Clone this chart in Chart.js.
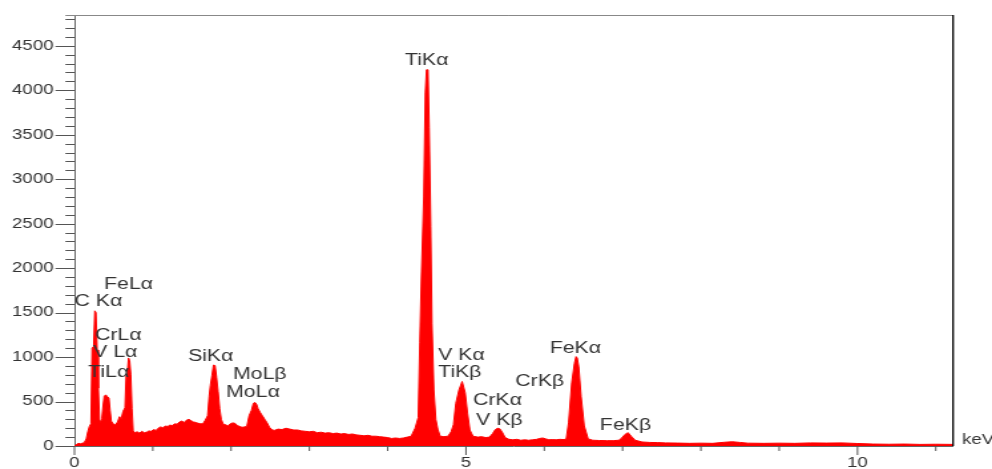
<!DOCTYPE html>
<html>
<head>
  <meta charset="UTF-8">
  <title>EDS spectrum</title>
  <style>
    body {
      margin: 0;
      padding: 0;
      overflow: hidden;
      background: #fff;
    }

    #chart {
      display: block;
    }
  </style>
  <script src="https://cdn.jsdelivr.net/npm/chart.js"></script>
</head>
<body>
  <!-- the original picture is stretched sideways, so the canvas is drawn narrow and widened by css -->
  <canvas id="chart" width="746" height="469" style="width:992px;height:469px"></canvas>

  <script>
    // spectrum: energy (keV) and counts
    var energy = [0, 0.02, 0.05, 0.08, 0.11, 0.13, 0.15, 0.17, 0.19, 0.21, 0.225, 0.245, 0.26, 0.275, 0.29, 0.305, 0.32, 0.335, 0.35, 0.365,
      0.38, 0.40, 0.42, 0.44, 0.455, 0.47, 0.49, 0.52, 0.55, 0.575, 0.595, 0.62, 0.645, 0.66, 0.675, 0.69, 0.705, 0.72, 0.735, 0.75,
      0.77, 0.80, 0.83, 0.86, 0.89, 0.92, 0.95, 0.98, 1.01, 1.04, 1.07, 1.10, 1.13, 1.16, 1.19, 1.22, 1.25, 1.28, 1.31, 1.34,
      1.37, 1.40, 1.43, 1.46, 1.49, 1.52, 1.55, 1.58, 1.61, 1.64, 1.67, 1.70, 1.72, 1.735, 1.755, 1.775, 1.795, 1.815, 1.835, 1.855,
      1.875, 1.90, 1.93, 1.96, 1.99, 2.02, 2.05, 2.08, 2.11, 2.14, 2.17, 2.20, 2.23, 2.26, 2.285, 2.305, 2.325, 2.345, 2.37, 2.40,
      2.43, 2.46, 2.49, 2.52, 2.55, 2.60, 2.65, 2.70, 2.75, 2.80, 2.85, 2.90, 2.95, 3.00, 3.05, 3.10, 3.15, 3.20, 3.25, 3.30,
      3.35, 3.40, 3.45, 3.50, 3.55, 3.60, 3.65, 3.70, 3.75, 3.80, 3.85, 3.90, 3.95, 4.00, 4.05, 4.10, 4.15, 4.20, 4.25, 4.30,
      4.35, 4.39, 4.41, 4.43, 4.46, 4.48, 4.495, 4.515, 4.53, 4.55, 4.565, 4.59, 4.615, 4.64, 4.67, 4.72, 4.77, 4.81, 4.84, 4.87,
      4.91, 4.95, 4.99, 5.02, 5.05, 5.09, 5.15, 5.20, 5.25, 5.30, 5.34, 5.37, 5.40, 5.43, 5.46, 5.50, 5.55, 5.60, 5.65, 5.70,
      5.75, 5.80, 5.85, 5.90, 5.94, 5.98, 6.02, 6.06, 6.10, 6.15, 6.20, 6.25, 6.28, 6.31, 6.35, 6.385, 6.405, 6.42, 6.44, 6.47,
      6.51, 6.56, 6.62, 6.70, 6.80, 6.88, 6.95, 6.99, 7.03, 7.07, 7.11, 7.16, 7.25, 7.35, 7.45, 7.55, 7.70, 7.85, 8.00, 8.15,
      8.30, 8.40, 8.50, 8.60, 8.80, 9.00, 9.20, 9.40, 9.60, 9.80, 10.00, 10.20, 10.40, 10.60, 10.80, 11.00, 11.22];

    var counts = [0, 15, 30, 25, 35, 45, 80, 160, 220, 250, 1100, 1120, 1520, 1500, 1080, 650, 300, 260, 310, 450,
      560, 575, 555, 540, 400, 280, 255, 235, 270, 330, 300, 390, 430, 790, 810, 990, 960, 800, 420, 170,
      150, 160, 145, 165, 150, 155, 170, 165, 185, 175, 200, 215, 205, 225, 220, 235, 230, 250, 245, 270,
      280, 265, 290, 300, 285, 270, 265, 255, 250, 250, 290, 340, 560, 680, 790, 910, 905, 770, 610, 420,
      300, 245, 240, 225, 250, 260, 255, 230, 220, 210, 215, 220, 340, 400, 480, 490, 470, 420, 380, 340,
      300, 260, 210, 185, 175, 190, 185, 200, 190, 180, 180, 170, 165, 160, 165, 150, 155, 145, 150, 140,
      145, 135, 140, 130, 135, 125, 120, 115, 120, 110, 110, 105, 100, 95, 85, 90, 85, 90, 100, 110,
      200, 320, 1160, 1900, 2800, 3970, 4230, 4230, 3580, 2470, 1380, 630, 300, 190, 110, 105, 110, 160, 240, 480,
      630, 725, 600, 370, 180, 110, 100, 105, 95, 100, 140, 180, 200, 195, 160, 95, 75, 70, 75, 65,
      70, 65, 70, 75, 85, 90, 80, 70, 72, 70, 75, 72, 80, 260, 710, 930, 1005, 990, 890, 555,
      225, 80, 65, 62, 60, 60, 65, 90, 130, 150, 110, 65, 45, 40, 38, 35, 33, 30, 32, 30,
      42, 48, 40, 32, 30, 32, 30, 35, 33, 35, 28, 22, 20, 22, 18, 20, 18];

    // peak labels and where their text starts (keV, counts)
    var peakNames = ['TiKα', 'FeLα', 'C Kα', 'CrLα', 'V Lα', 'TiLα', 'SiKα', 'MoLβ', 'MoLα',
      'V Kα', 'TiKβ', 'CrKβ', 'CrKα', 'V Kβ', 'FeKα', 'FeKβ'];
    var peakKeV = [4.22, 0.378, 0.0, 0.263, 0.238, 0.174, 1.45, 2.025, 1.936,
      4.644, 4.644, 5.63, 5.09, 5.13, 6.07, 6.71];
    var peakCounts = [4330, 1820, 1620, 1240, 1050, 820, 1010, 800, 600,
      1020, 820, 720, 505, 290, 1100, 235];

    var xMax = 11.22;
    var yMax = 4835;
    var xLabelled = [0, 5, 10];

    var points = [];
    for (var i = 0; i < energy.length; i++) {
      points.push({ x: energy[i], y: counts[i] });
    }

    var axisFont = { family: 'Liberation Sans', size: 14 };

    // tick marks of two lengths, the frame, peak names and the unit
    var decorations = {
      id: 'decorations',
      afterDraw: function (chart) {
        var ctx = chart.ctx;
        var xs = chart.scales.x;
        var ys = chart.scales.y;
        var a = chart.chartArea;
        ctx.save();

        ctx.strokeStyle = '#555';
        ctx.lineWidth = 1;
        ctx.beginPath();
        for (var v = 0; v <= 4800; v += 100) {
          var py = Math.round(ys.getPixelForValue(v)) + 0.5;
          var len = v % 500 === 0 ? 14.3 : 6.8;
          ctx.moveTo(a.left - len, py);
          ctx.lineTo(a.left, py);
        }
        for (var k = 0; k <= 11; k++) {
          var px = xs.getPixelForValue(k);
          var l2 = k % 5 === 0 ? 9 : 5;
          ctx.moveTo(px, a.bottom);
          ctx.lineTo(px, a.bottom + l2);
        }
        ctx.stroke();

        ctx.strokeStyle = '#888';
        ctx.beginPath();
        ctx.moveTo(a.left - 6.8, a.top - 0.5);
        ctx.lineTo(a.right, a.top - 0.5);
        ctx.stroke();

        ctx.strokeStyle = '#000';
        ctx.lineWidth = 1.3;
        ctx.beginPath();
        ctx.moveTo(a.right, a.top - 1);
        ctx.lineTo(a.right, a.bottom);
        ctx.stroke();

        ctx.fillStyle = '#333';
        ctx.font = '16px "Liberation Sans"';
        ctx.textAlign = 'left';
        ctx.textBaseline = 'middle';
        for (var j = 0; j < peakNames.length; j++) {
          ctx.fillText(peakNames[j], xs.getPixelForValue(peakKeV[j]), ys.getPixelForValue(peakCounts[j]));
        }

        ctx.font = '14px "Liberation Sans"';
        ctx.fillText('keV', a.right + 6.7, a.bottom - 6);
        ctx.restore();
      }
    };

    var ctx = document.getElementById('chart').getContext('2d');
    var chart = new Chart(ctx, {
      type: 'line',
      data: {
        datasets: [{
          data: points,
          borderColor: '#ff0000',
          backgroundColor: '#ff0000',
          borderWidth: 1,
          fill: 'origin',
          pointRadius: 0,
          tension: 0
        }]
      },
      options: {
        responsive: false,
        devicePixelRatio: 1,
        animation: false,
        layout: { padding: { left: 0, right: 29.3, top: 16, bottom: 0 } },
        plugins: {
          legend: { display: false },
          tooltip: { enabled: false }
        },
        scales: {
          x: {
            type: 'linear',
            min: 0,
            max: xMax,
            afterFit: function (scale) { scale.height = 23; },
            border: { color: '#666', width: 1 },
            grid: { drawOnChartArea: false, tickLength: 9, tickColor: 'rgba(0,0,0,0)' },
            ticks: {
              stepSize: 1,
              autoSkip: false,
              maxRotation: 0,
              padding: 0,
              color: '#333',
              font: axisFont,
              callback: function (v) { return xLabelled.indexOf(v) >= 0 ? v : ''; }
            }
          },
          y: {
            min: 0,
            max: yMax,
            afterFit: function (scale) { scale.width = 56; },
            border: { color: '#666', width: 1 },
            grid: { drawOnChartArea: false, tickLength: 14.3, tickColor: 'rgba(0,0,0,0)' },
            ticks: {
              stepSize: 100,
              autoSkip: false,
              padding: 1.5,
              color: '#333',
              font: axisFont,
              callback: function (v) { return v % 500 === 0 ? v : ''; }
            }
          }
        }
      },
      plugins: [decorations]
    });
  </script>
</body>
</html>
